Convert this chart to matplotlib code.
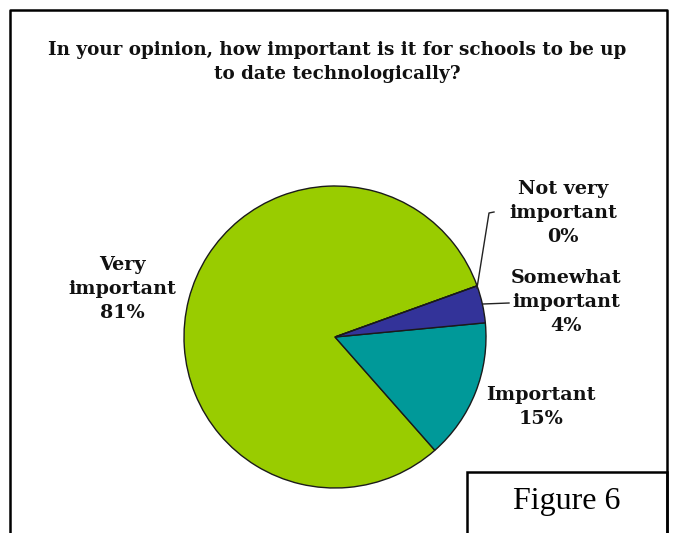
import matplotlib
matplotlib.use("Agg")
import matplotlib.pyplot as plt
from matplotlib.patches import Rectangle

title = "In your opinion, how important is it for schools to be up\nto date technologically?"
categories = ["Very important", "Important", "Somewhat important", "Not very important"]
values = [81, 15, 4, 0]
label_texts = ["Very\nimportant\n81%", "Important\n15%", "Somewhat\nimportant\n4%", "Not very\nimportant\n0%"]
colors = ["#99CC00", "#009999", "#333399", "#FFFFCC"]

W, H = 674, 533
fig = plt.figure(figsize=(W / 100, H / 100), dpi=100)
ax = fig.add_axes([0, 0, 1, 1])

def Y(y):
    return H - y

# pie
cx, cy, r = 335, Y(337), 151
ax.pie(values, colors=colors, startangle=19.8, counterclock=True,
       center=(cx, cy), radius=r, frame=True,
       wedgeprops=dict(edgecolor="#1a1a1a", linewidth=1.0))
ax.set_xlim(0, W)
ax.set_ylim(0, H)
ax.axis("off")

font = dict(family="DejaVu Serif", fontweight="bold", fontsize=13.8, color="#111111",
            ha="center", va="center", linespacing=1.45)

ax.text(337, Y(62), title, **dict(font, fontsize=13.2, linespacing=1.4))

# labels
ax.text(122, Y(289), label_texts[0], **font)
ax.text(541, Y(407), label_texts[1], **font)
ax.text(566, Y(302), label_texts[2], **font)
ax.text(563, Y(213), label_texts[3], **font)

# leader lines
ax.plot([477, 489, 494], [Y(288), Y(213), Y(212)], color="#222222", lw=1)
ax.plot([483, 509], [Y(304), Y(303)], color="#222222", lw=1)

# outer border (left, top, right)
ax.plot([10, 10, 667, 667], [0, Y(10), Y(10), 0], color="black", lw=1.8)

# Figure 6 box
ax.add_patch(Rectangle((467, -2), 200, Y(472) + 2, fill=False, edgecolor="black", lw=1.8))
ax.text(567, Y(501), "Figure 6", family="Liberation Serif", fontsize=23,
        ha="center", va="center", color="black")

fig.savefig("out.png", dpi=100, facecolor="white")
